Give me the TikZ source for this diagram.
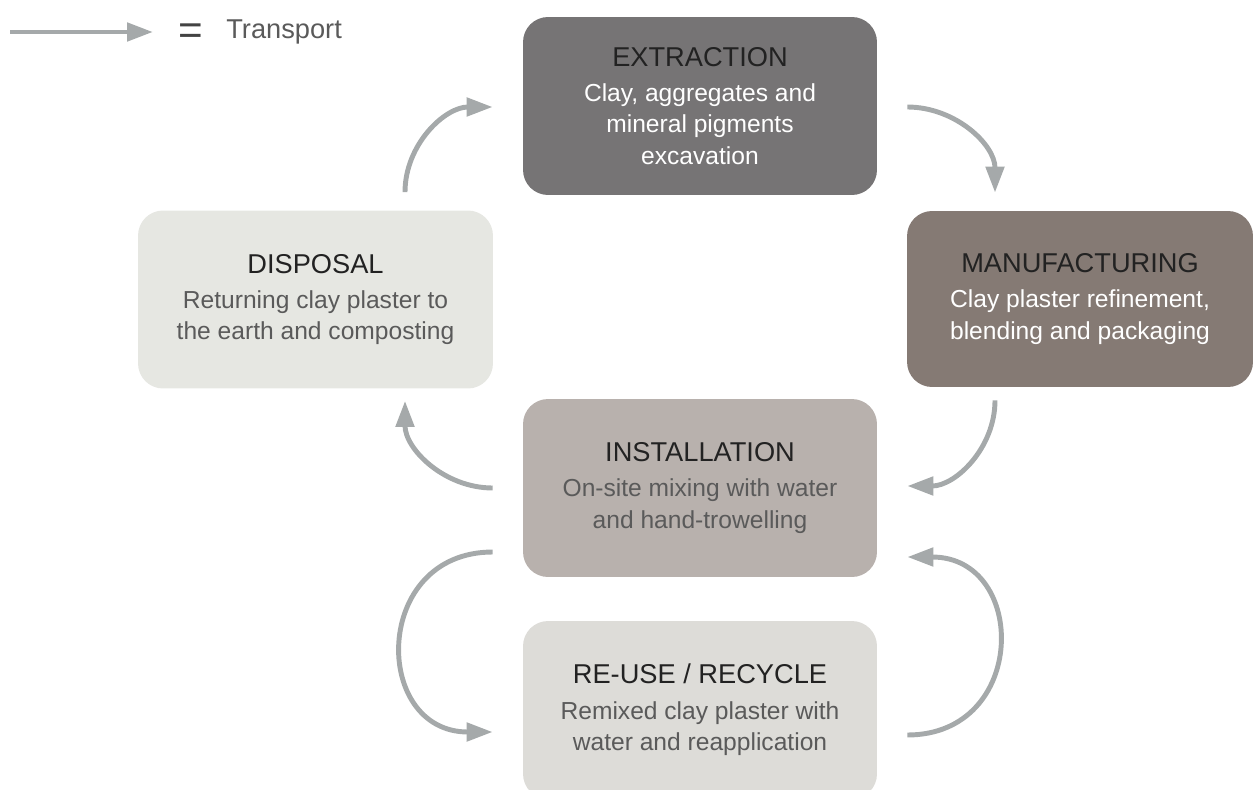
\documentclass[tikz,border=0pt]{standalone}
\usepackage{fontspec}
\setmainfont{Liberation Sans}
\usepackage{xcolor}
\usepackage{tikz}
\usetikzlibrary{arrows.meta, positioning}

\definecolor{extrfill}{HTML}{767475}
\definecolor{manufill}{HTML}{857A74}
\definecolor{dispfill}{HTML}{E6E7E2}
\definecolor{instfill}{HTML}{B8B1AD}
\definecolor{reusefill}{HTML}{DDDCD8}
\definecolor{arrowgray}{HTML}{A5A9AA}
\definecolor{titledark}{HTML}{222222}
\definecolor{bodygray}{HTML}{5A5A5A}

\newcommand{\stagetitle}[1]{{\fontsize{15.5}{18}\selectfont\color{titledark}#1}}

\begin{document}
\begin{tikzpicture}[
    x=0.02cm, y=0.02cm,
    stage/.style={rounded corners=0.5cm, minimum width=7.08cm, minimum height=3.56cm, inner sep=0pt, align=center, font=\fontsize{14}{18}\selectfont, text=bodygray},
    transport/.style={line width=2.8pt, draw=arrowgray, -{Triangle[length=0.52cm, width=0.36cm]}}
]
    \useasboundingbox (0,0) rectangle (1253,789);

    \node[stage, fill=extrfill, text=white] (extraction) at (700,683) {\stagetitle{EXTRACTION}\\[2pt] Clay, aggregates and\\ mineral pigments\\ excavation};
    \node[stage, fill=manufill, text=white, minimum width=6.92cm, minimum height=3.52cm] (manufacturing) at (1080,490) {\stagetitle{MANUFACTURING}\\[2pt] Clay plaster refinement,\\ blending and packaging};
    \node[stage, fill=dispfill, minimum width=7.1cm] (disposal) at (315.5,489.5) {\stagetitle{DISPOSAL}\\[2pt] Returning clay plaster to\\ the earth and composting};
    \node[stage, fill=instfill] (installation) at (700,301) {\stagetitle{INSTALLATION}\\[2pt] On-site mixing with water\\ and hand-trowelling};
    \node[stage, fill=reusefill] (reuse) at (700,79) {\stagetitle{RE-USE / RECYCLE}\\[2pt] Remixed clay plaster with\\ water and reapplication};

    \coordinate (legtail) at (10,757);
    \coordinate (leghead) at (153,757);
    \node[anchor=base, font=\fontsize{24}{24}\selectfont, text=titledark!85, inner sep=0pt] (legeq) at (190.5,744) {=};
    \node[anchor=base west, font=\fontsize{15.5}{18}\selectfont, text=bodygray, inner sep=0pt] (legtext) at (226,750) {Transport};
    \draw[transport] (legtail) -- (leghead);

    \draw[transport] ([shift={(89.5,18)}]disposal.north) to[out=90, in=180] ([shift={(-30,-1)}]extraction.west);
    \draw[transport] ([shift={(30,-1)}]extraction.east) to[out=0, in=90] ([shift={(-85,18)}]manufacturing.north);
    \draw[transport] ([shift={(-85,-13)}]manufacturing.south) to[out=-90, in=0] ([shift={(30,2)}]installation.east);
    \draw[transport] ([shift={(-30,0)}]installation.west) to[out=180, in=-90] ([shift={(89.5,-12)}]disposal.south);
    \draw[transport] ([shift={(-30,-64)}]installation.west) .. controls +(-121,0) and +(-121,0) .. ([shift={(-30,-22)}]reuse.west);
    \draw[transport] ([shift={(30,-25)}]reuse.east) .. controls +(121,0) and +(121,0) .. ([shift={(30,-69)}]installation.east);
\end{tikzpicture}
\end{document}
